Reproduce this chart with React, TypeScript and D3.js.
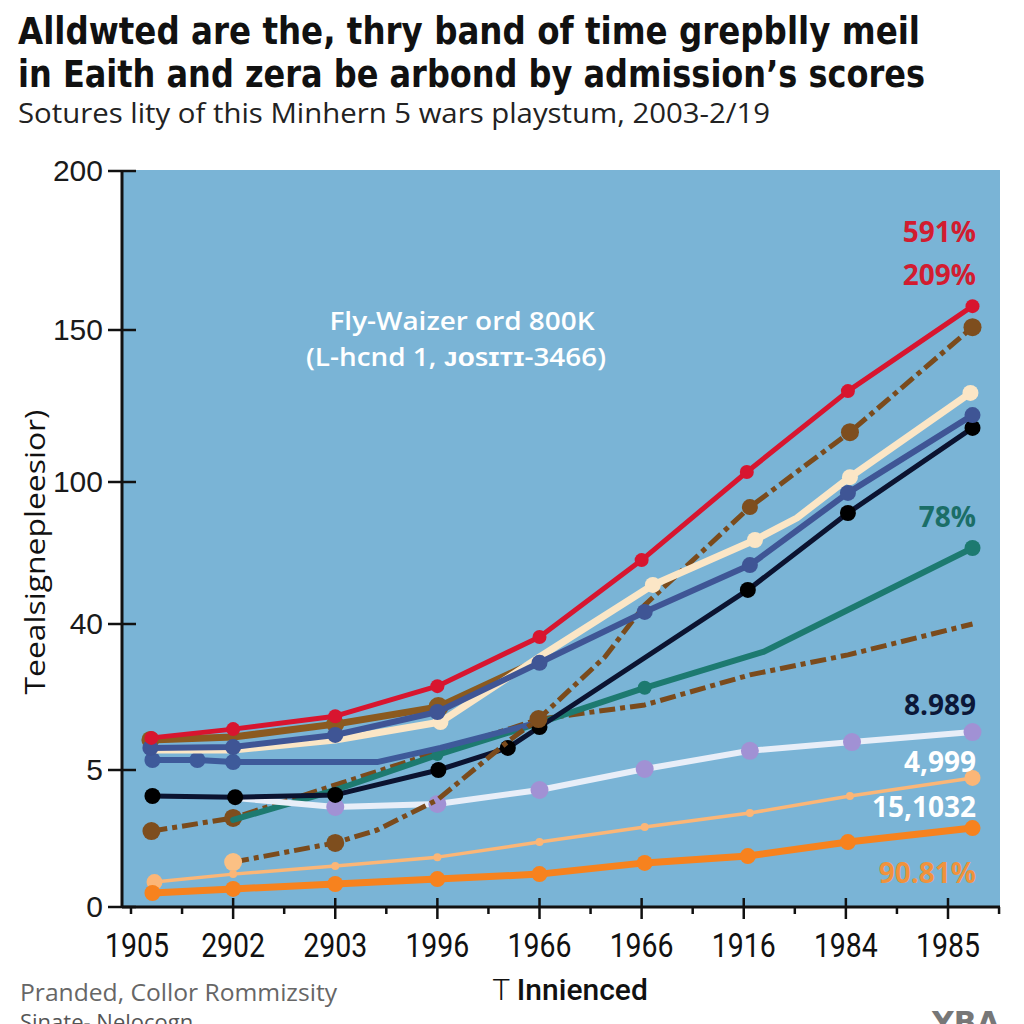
import React from "react";
import * as d3 from "d3";

// ---- data ----
const periods = ["1905", "2902", "2903", "1996", "1966", "1966", "1916", "1984", "1985"];
const yTicks = [0, 5, 40, 100, 150, 200];

// [period index position, value]
const redSeries = [[0.2, 12.7], [1, 14.8], [2, 17.9], [3, 25.1], [4, 36.9], [5, 67], [6.03, 103.3], [7.02, 129.9], [8.24, 157.5]];
const brownSolid = [[0.19, 12.2], [1, 12.9], [2, 16.0], [3.01, 20.1], [4, 31.4]];
const creamSeries = [[0.2, 9.8], [1, 9.8], [2, 12.2], [3.03, 16.5], [4, 32.1], [5.11, 56.5], [6.11, 75.5], [6.52, 84.8], [7.04, 101.6], [8.22, 129.3]];
const blueUpper = [[0.19, 10.3], [1, 10.5], [2, 13.4], [3, 18.9], [4, 30.7], [5.03, 45.1], [6.06, 64.9], [7.02, 95.4], [8.24, 122.0]];
const blueLower = [[0.21, 7.4], [0.65, 7.4], [1, 6.9], [2.41, 6.9], [3.03, 10.3], [4, 16.5]];
const tealSeries = [[1, 3.18], [2, 4.27], [3, 8.6], [4, 16.3], [5.03, 24.7], [6.19, 33.3], [8.24, 72.1]];
const blackSeries = [[0.21, 4.05], [1.02, 4.01], [2, 4.09], [3.01, 5.0], [3.69, 10.3], [4, 15.3], [6.04, 54.4], [7.02, 86.9], [8.24, 117.8]];
const whiteSeries = [[1.02, 3.98], [2, 3.65], [3, 3.76], [4, 4.27], [5.03, 5.24], [6.06, 9.6], [7.06, 11.7], [8.24, 14.1]];
const lightOrange = [[0.23, 0.91], [1, 1.2], [2, 1.5], [3, 1.82], [4, 2.37], [5.03, 2.92], [6.06, 3.43], [7.04, 4.05], [8.24, 4.71]];
const orangeSeries = [[0.21, 0.51], [1, 0.66], [2, 0.84], [3, 1.02], [4, 1.2], [5.03, 1.61], [6.04, 1.86], [7.02, 2.37], [8.24, 2.88]];
const dashedLow = [[0.2, 2.77], [1, 3.25], [4, 17.2], [5.03, 20.6], [6.06, 27.8], [7.02, 32.6], [8.24, 40]];
const dashedHigh = [[1, 1.64], [2, 2.34], [2.41, 2.81], [3, 3.91], [3.71, 12.2], [3.99, 17.2], [4.64, 32.1], [5.03, 48.0], [6.06, 89.4], [7.04, 116.4], [8.24, 150.9]];

const endLabels = [
  { text: "591%", value: 177.7, color: "#d21c30" },
  { text: "209%", value: 164.0, color: "#d21c30" },
  { text: "78%", value: 81.0, color: "#1b6e67" },
  { text: "8.989", value: 18.2, color: "#0c1838" },
  { text: "4,999", value: 4.93, color: "#ffffff" },
  { text: "15,1032", value: 3.28, color: "#ffffff" },
  { text: "90.81%", value: 0.88, color: "#f0923c" },
];

type Style = {
  data: number[][];
  color: string;
  width: number;
  dash?: string;
  r: number;
  marks: number[] | "all";
  markColor?: string;
  markR?: Record<number, number>;
  markFill?: Record<number, string>;
};

const styles: Style[] = [
  { data: dashedLow, color: "#7b4b1c", width: 5, dash: "16 5 5 5", r: 9, marks: [0, 1], markColor: "#7e4e1e" },
  { data: tealSeries, color: "#1d7a70", width: 6, r: 7, marks: [2, 4, 6], markR: { 2: 6, 6: 8 } },
  { data: blueLower, color: "#3e5a9a", width: 6, r: 8, marks: [0, 1, 2] },
  { data: whiteSeries, color: "#e8eef8", width: 6, r: 9, marks: [1, 2, 3, 4, 5, 6, 7], markColor: "#a191d4" },
  { data: blackSeries, color: "#0b1330", width: 5, r: 8, marks: "all", markColor: "#000000" },
  { data: dashedHigh, color: "#7b4b1c", width: 5, dash: "16 5 5 5", r: 9, marks: [0, 1, 5, 8, 9, 10], markColor: "#7e4e1e", markFill: { 0: "#fbc084" }, markR: { 8: 8 } },
  { data: lightOrange, color: "#fbb677", width: 3.5, r: 4, marks: "all", markR: { 0: 8, 8: 8 } },
  { data: orangeSeries, color: "#f7821e", width: 7, r: 8, marks: "all" },
  { data: brownSolid, color: "#8b5a1f", width: 7, r: 9, marks: [0, 2, 3], markR: { 3: 10 } },
  { data: creamSeries, color: "#fbe6c6", width: 7, r: 8, marks: [3, 5, 6, 8, 9] },
  { data: blueUpper, color: "#3f5595", width: 6, r: 8, marks: "all" },
  { data: redSeries, color: "#d8152f", width: 5, r: 7, marks: "all" },
];

const W = 1024;
const H = 1024;
const left = 122;
const right = 1000;
const top = 170;
const bottom = 907;

export default function App() {
  const x = d3.scaleLinear().domain([0, 8]).range([131, 948]);
  const y = d3.scaleLinear().domain(yTicks).range([907, 770, 624, 482, 330, 171]);
  const line = d3
    .line<number[]>()
    .x((d) => x(d[0]))
    .y((d) => y(d[1]));

  const minor = d3.range(0, 9, 1).map((i) => i + 0.5).concat([0]);
  const major = d3.range(1, 9, 1);

  return (
    <svg
      width={W}
      height={H}
      viewBox={`0 0 ${W} ${H}`}
      style={{ position: "absolute", left: 0, top: 0, background: "#fff" }}
    >
      <rect x={0} y={0} width={W} height={H} fill="#ffffff" />
      {/* titles */}
      <text x={18} y={44} fontFamily="'DejaVu Sans', sans-serif" fontWeight={700} fontSize={37} fill="#111" textLength={902} lengthAdjust="spacingAndGlyphs">
        Alldwted are the, thry band of time grepblly meil
      </text>
      <text x={18} y={87} fontFamily="'DejaVu Sans', sans-serif" fontWeight={700} fontSize={37} fill="#111" textLength={907} lengthAdjust="spacingAndGlyphs">
        in Eaith and zera be arbond by admission’s scores
      </text>
      <text x={18} y={123} fontFamily="'Open Sans', sans-serif" fontWeight={400} fontSize={28} fill="#222" textLength={752} lengthAdjust="spacingAndGlyphs">
        Sotures lity of this Minhern 5 wars playstum, 2003-2/19
      </text>

      {/* plot background */}
      <rect x={left} y={top} width={right - left} height={bottom - top} fill="#7ab4d6" />

      {/* annotation */}
      <text x={462} y={330} textAnchor="middle" fontFamily="'Open Sans', sans-serif" fontWeight={600} fontSize={26} fill="#ffffff" textLength={265} lengthAdjust="spacingAndGlyphs">
        Fly-Waizer ord 800K
      </text>
      <text x={456} y={366} textAnchor="middle" fontFamily="'Open Sans', sans-serif" fontWeight={600} fontSize={26} fill="#ffffff" textLength={300} lengthAdjust="spacingAndGlyphs">
        (L-hcnd 1, ᴊᴏsɪᴛɪ-3466)
      </text>

      {/* series */}
      {styles.map((s, si) => (
        <g key={si}>
          <path
            d={line(s.data) || ""}
            fill="none"
            stroke={s.color}
            strokeWidth={s.width}
            strokeDasharray={s.dash}
            strokeLinejoin="round"
            strokeLinecap={s.dash ? "butt" : "round"}
          />
          {s.data.map((d, i) => {
            const on = s.marks === "all" || (s.marks as number[]).includes(i);
            if (!on) return null;
            const r = (s.markR && s.markR[i]) || s.r;
            const fill = (s.markFill && s.markFill[i]) || s.markColor || s.color;
            return <circle key={i} cx={x(d[0])} cy={y(d[1])} r={r} fill={fill} />;
          })}
        </g>
      ))}

      {/* end labels */}
      {endLabels.map((l, i) => (
        <text
          key={i}
          x={976}
          y={y(l.value)}
          textAnchor="end"
          fontFamily="'Open Sans', sans-serif"
          fontWeight={700}
          fontSize={28}
          fill={l.color}
        >
          {l.text}
        </text>
      ))}

      {/* axes */}
      <line x1={left} x2={left} y1={top} y2={bottom + 1} stroke="#111" strokeWidth={3} />
      <line x1={left} x2={right} y1={bottom} y2={bottom} stroke="#111" strokeWidth={3} />
      {yTicks.map((t) => (
        <g key={t}>
          <line x1={108} x2={136} y1={y(t)} y2={y(t)} stroke="#111" strokeWidth={2.5} />
          <text x={103} y={y(t) + 10} textAnchor="end" fontFamily="'Liberation Sans', Arial, sans-serif" fontSize={30} fill="#1a1a1a">
            {t}
          </text>
        </g>
      ))}
      {minor.map((m) => (
        <line key={"m" + m} x1={x(m)} x2={x(m)} y1={bottom} y2={bottom + 7} stroke="#111" strokeWidth={2.5} />
      ))}
      {major.map((m) => (
        <line key={"M" + m} x1={x(m)} x2={x(m)} y1={bottom - 9} y2={bottom + 12} stroke="#111" strokeWidth={2.5} />
      ))}
      {periods.map((p, i) => (
        <text
          key={"p" + i}
          x={x(i) + (i === 0 ? 6 : 0)}
          y={957}
          textAnchor="middle"
          fontFamily="Roboto, sans-serif"
          fontSize={33}
          fill="#111"
          textLength={64}
          lengthAdjust="spacingAndGlyphs"
        >
          {p}
        </text>
      ))}

      {/* axis titles */}
      <text
        transform="translate(45,552) rotate(-90)"
        textAnchor="middle"
        fontFamily="'Open Sans', sans-serif"
        fontSize={28}
        fill="#111"
        textLength={285}
        lengthAdjust="spacingAndGlyphs"
      >
        Teealsignepleesior)
      </text>
      <text x={570} y={1000} textAnchor="middle" fontFamily="Roboto, sans-serif" fontSize={30} fill="#111">
        <tspan fontWeight={300}>T </tspan>
        <tspan fontWeight={500}>Innienced</tspan>
      </text>

      {/* footer */}
      <text x={20} y={1001} fontFamily="'Open Sans', sans-serif" fontSize={24} fill="#666" textLength={317} lengthAdjust="spacingAndGlyphs">
        Pranded, Collor Rommizsity
      </text>
      <text x={20} y={1030} fontFamily="'Open Sans', sans-serif" fontSize={22} fill="#555">
        Sinate- Nelocogn
      </text>
      <text x={966} y={1033} textAnchor="middle" fontFamily="'DejaVu Sans', sans-serif" fontWeight={700} fontSize={30} fill="#777">
        YBA
      </text>
    </svg>
  );
}
